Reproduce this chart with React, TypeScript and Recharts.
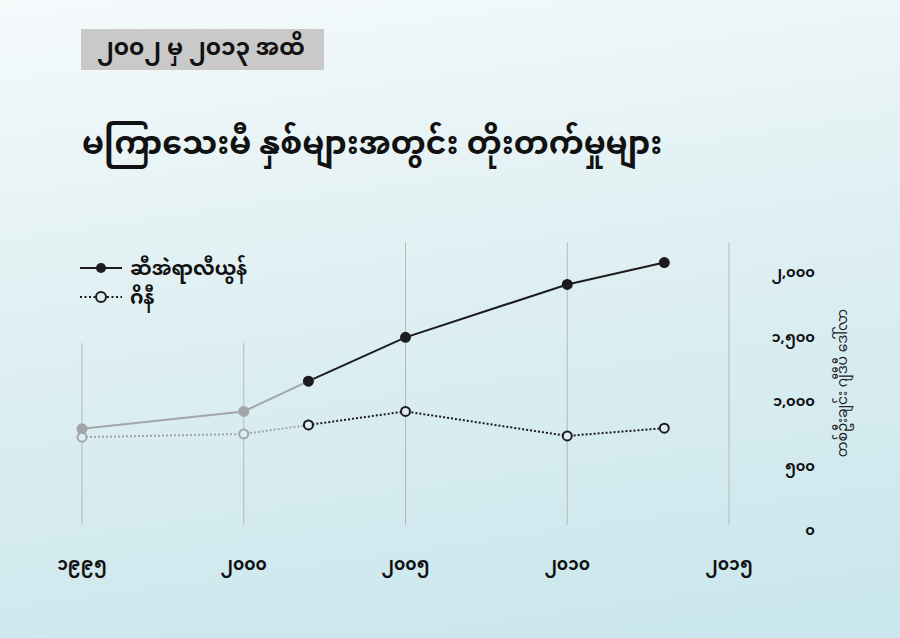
import React from "react";
import { LineChart, Line, XAxis, YAxis, ReferenceLine } from "recharts";

// years on the x axis
const years = [1995, 2000, 2002, 2005, 2010, 2013];
// Sierra Leone values (grey up to 2002, black from 2002 on)
const sierraLeone = [785, 920, 1155, 1495, 1905, 2075];
// Guinea values
const guinea = [720, 745, 815, 920, 730, 790];

const xTicks = [1995, 2000, 2005, 2010, 2015];
const xTickLabels = ["၁၉၉၅", "၂၀၀၀", "၂၀၀၅", "၂၀၁၀", "၂၀၁၅"];
const yTicks = [0, 500, 1000, 1500, 2000];
const yTickLabels = ["၀", "၅၀၀", "၁,၀၀၀", "၁,၅၀၀", "၂,၀၀၀"];

const seriesNames = ["ဆီအဲရာလီယွန်", "ဂိနီ"];
const subtitle = "၂၀၀၂ မှ ၂၀၁၃ အထိ";
const title = "မကြာသေးမီ နှစ်များအတွင်း တိုးတက်မှုများ";
const yLabel = "တစ်ဦးချင်း ဂျီဒီပီ ဒေါ်လာ";

const splitYear = 2002;

const data = years.map((year, i) => ({
  year,
  slOld: year <= splitYear ? sierraLeone[i] : null,
  slNew: year >= splitYear ? sierraLeone[i] : null,
  gnOld: year <= splitYear ? guinea[i] : null,
  gnNew: year >= splitYear ? guinea[i] : null,
}));

// vertical grid lines: the two left ones stop short below the legend
const gridYears = [1995, 2000, 2005, 2010, 2015];
const gridTops = [1450, 1450, 2230, 2230, 2230];

const FONT = "'Noto Sans', 'Noto Sans Myanmar', Padauk, sans-serif";
const GREY = "#a3a6a8";
const DARK = "#1d1b20";
const BG_DOT = "#dcecef";

const XTick = (props: any) => {
  const { x, y, payload } = props;
  const i = xTicks.indexOf(payload.value);
  return (
    <text x={x} y={y + 32} textAnchor="middle" fontSize={17} fontWeight={700} fill="#111" fontFamily={FONT}>
      {xTickLabels[i]}
    </text>
  );
};

const YTick = (props: any) => {
  const { y, payload } = props;
  const i = yTicks.indexOf(payload.value);
  return (
    <text x={815} y={y + 5} textAnchor="end" fontSize={14.5} fontWeight={700} fill="#111" fontFamily={FONT}>
      {yTickLabels[i]}
    </text>
  );
};

function LegendBox() {
  const row = { display: "flex", alignItems: "center", height: 29 } as const;
  const label = { marginLeft: 6, fontSize: 19.5, fontWeight: 700, color: "#111", lineHeight: "29px" } as const;
  return (
    <div style={{ position: "absolute", left: 80, top: 253, fontFamily: FONT }}>
      <div style={row}>
        <svg width={44} height={14}>
          <line x1={0} y1={7} x2={42} y2={7} stroke={DARK} strokeWidth={2} />
          <circle cx={21} cy={7} r={5} fill={DARK} />
        </svg>
        <span style={label}>{seriesNames[0]}</span>
      </div>
      <div style={row}>
        <svg width={44} height={14}>
          <line x1={0} y1={7} x2={42} y2={7} stroke={DARK} strokeWidth={2} strokeDasharray="2 2.5" />
          <circle cx={21} cy={7} r={5} fill={BG_DOT} stroke={DARK} strokeWidth={2} />
        </svg>
        <span style={label}>{seriesNames[1]}</span>
      </div>
    </div>
  );
}

export default function App() {
  return (
    <div
      style={{
        position: "absolute",
        left: 0,
        top: 0,
        width: 900,
        height: 638,
        overflow: "hidden",
        fontFamily: FONT,
        background: "linear-gradient(172deg, #f5fafb 0%, #e1f0f3 40%, #c8e6ec 100%)",
      }}
    >
      <div
        style={{
          position: "absolute",
          left: 81,
          top: 29,
          width: 243,
          height: 41,
          background: "#c9c9c9",
          display: "flex",
          alignItems: "center",
        }}
      >
        <span style={{ marginLeft: 16, fontSize: 23, fontWeight: 700, color: "#111" }}>{subtitle}</span>
      </div>
      <div style={{ position: "absolute", left: 82, top: 112, fontSize: 31.5, fontWeight: 700, color: "#111", whiteSpace: "nowrap" }}>
        {title}
      </div>
      <div
        style={{
          position: "absolute",
          left: 843,
          top: 383,
          transform: "translate(-50%, -50%) rotate(-90deg)",
          fontSize: 14,
          color: "#222",
          whiteSpace: "nowrap",
        }}
      >
        {yLabel}
      </div>
      <LegendBox />
      <div style={{ position: "absolute", left: 0, top: 0 }}>
        <LineChart width={900} height={638} data={data} margin={{ top: 240, right: 81, bottom: 0, left: 82 }}>
          <XAxis
            dataKey="year"
            type="number"
            domain={[1995, 2015]}
            ticks={xTicks}
            axisLine={false}
            tickLine={false}
            tick={<XTick />}
            height={108}
          />
          <YAxis
            orientation="right"
            type="number"
            domain={[0, 2250]}
            ticks={yTicks}
            axisLine={false}
            tickLine={false}
            tick={<YTick />}
            width={90}
            interval={0}
          />
          {gridYears.map((yr, i) => (
            <ReferenceLine
              key={yr}
              segment={[
                { x: yr, y: 40 },
                { x: yr, y: gridTops[i] },
              ]}
              stroke="#b4b9bb"
              strokeWidth={1}
            />
          ))}
          <Line
            dataKey="slOld"
            stroke={GREY}
            strokeWidth={2}
            dot={{ r: 4.5, fill: GREY, stroke: GREY }}
            isAnimationActive={false}
          />
          <Line
            dataKey="gnOld"
            stroke={GREY}
            strokeWidth={2}
            strokeDasharray="2 2"
            dot={{ r: 4.5, fill: BG_DOT, stroke: GREY, strokeWidth: 2, strokeDasharray: "0" }}
            isAnimationActive={false}
          />
          <Line
            dataKey="slNew"
            stroke={DARK}
            strokeWidth={2}
            dot={{ r: 4.5, fill: DARK, stroke: DARK }}
            isAnimationActive={false}
          />
          <Line
            dataKey="gnNew"
            stroke={DARK}
            strokeWidth={2}
            strokeDasharray="2 2"
            dot={{ r: 4.5, fill: BG_DOT, stroke: DARK, strokeWidth: 2, strokeDasharray: "0" }}
            isAnimationActive={false}
          />
        </LineChart>
      </div>
    </div>
  );
}
